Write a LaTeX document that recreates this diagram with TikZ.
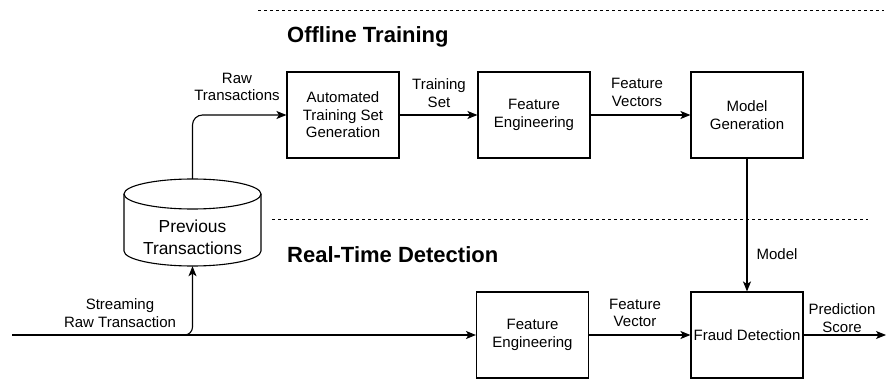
\documentclass[tikz,border=0pt]{standalone}
\usepackage{fontspec}
\setmainfont{Liberation Sans}
\usetikzlibrary{arrows.meta,calc}
\begin{document}
\begin{tikzpicture}[x=1pt,y=-1pt,
  box/.style={draw,line width=1.1pt,minimum width=112pt,minimum height=86pt,inner sep=0pt,align=center,font=\fontsize{15}{17.5}\selectfont},
  lbl/.style={align=center,font=\fontsize{15}{17.5}\selectfont,inner sep=0pt},
  ttl/.style={font=\fontsize{22}{24}\selectfont\bfseries,anchor=west,inner sep=0pt},
  conn/.style={line width=1.1pt,-{Stealth[length=10pt,width=8pt,inset=2.5pt]}},
  sep/.style={line width=0.8pt,dash pattern=on 3pt off 3pt},
  dbline/.style={line width=1.1pt}]
\useasboundingbox (0,0) rectangle (886,379);
% separators
\coordinate (d1a) at (258,10);
\coordinate (d1b) at (884,10);
\coordinate (d2a) at (272,219);
\coordinate (d2b) at (868,219);
\draw[sep] (d1a) -- (d1b);
\draw[sep] (d2a) -- (d2b);
% titles
\node[ttl] (t1) at (287,37) {Offline Training};
\node[ttl] (t2) at (287,255) {Real-Time Detection};
% boxes
\node[box] (atsg) at (343,115) {Automated\\Training Set\\Generation};
\node[box] (fe1) at (534,115) {Feature\\Engineering};
\node[box] (mg) at (747,115) {Model\\Generation};
\node[box] (fe2) at (532.5,335) {Feature\\Engineering};
\node[box] (fd) at (747,335) {Fraud Detection};
% database cylinder
\node[minimum width=137pt,minimum height=87pt,inner sep=0pt] (db) at (192.5,222.5) {};
\draw[dbline] (192.5,194) ellipse [x radius=68.5, y radius=15];
\draw[dbline] (124,194) -- (124,251) .. controls (124,259.3) and (154.7,266) .. (192.5,266)
  .. controls (230.3,266) and (261,259.3) .. (261,251) -- (261,194);
\node[align=center,inner sep=0pt,font=\fontsize{17.4}{22}\selectfont] (dbt) at (192.5,237) {Previous\\Transactions};
% connectors
\coordinate (src) at (12,335);
\coordinate (out) at (886,335);
\draw[conn,rounded corners=10pt] (db.north) |- (atsg.west);
\draw[conn] (atsg) -- (fe1);
\draw[conn] (fe1) -- (mg);
\draw[conn] (mg) -- (fd);
\draw[conn] (src) -- (fe2.west);
\draw[conn,rounded corners=8pt] (src) -| (db.south);
\draw[conn] (fe2) -- (fd);
\draw[conn] (fd) -- (out);
% labels
\node[lbl] (l1) at (237,87) {Raw\\Transactions};
\node[lbl] (l2) at (439,93) {Training\\Set};
\node[lbl] (l3) at (637,92.5) {Feature\\Vectors};
\node[lbl] (l4) at (777,254) {Model};
\node[lbl] (l5) at (120,313) {Streaming\\Raw Transaction};
\node[lbl] (l6) at (635,313) {Feature\\Vector};
\node[lbl] (l7) at (842,318) {Prediction\\Score};
\end{tikzpicture}
\end{document}
